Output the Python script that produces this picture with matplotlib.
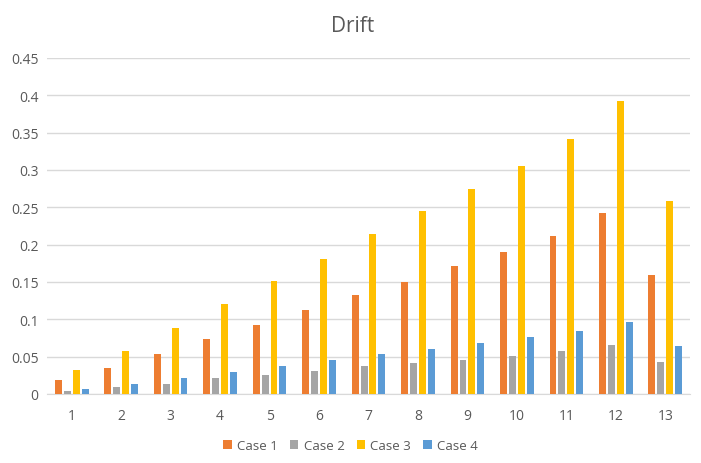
import matplotlib
matplotlib.use("Agg")
import matplotlib.pyplot as plt
import numpy as np

plt.rcParams['font.family'] = ['Open Sans', 'DejaVu Sans']

categories = [str(i) for i in range(1, 14)]
case1 = [0.019, 0.035, 0.054, 0.074, 0.093, 0.113, 0.132, 0.150, 0.171, 0.190, 0.211, 0.243, 0.160]
case2 = [0.0045, 0.0098, 0.014, 0.021, 0.026, 0.031, 0.037, 0.042, 0.046, 0.0515, 0.058, 0.066, 0.0435]
case3 = [0.032, 0.058, 0.089, 0.120, 0.151, 0.181, 0.214, 0.245, 0.275, 0.306, 0.341, 0.392, 0.258]
case4 = [0.007, 0.014, 0.022, 0.029, 0.037, 0.045, 0.053, 0.060, 0.068, 0.076, 0.084, 0.097, 0.064]
series = [("Case 1", case1, "#ED7D31"), ("Case 2", case2, "#A5A5A5"),
          ("Case 3", case3, "#FFC000"), ("Case 4", case4, "#5B9BD5")]

fig = plt.figure(figsize=(7.01, 4.64), dpi=100)
ax = fig.add_axes([47/701, 69/464, 643/701, 336/464])

x = np.arange(len(categories))
step = 0.18
width = 0.14
for i, (name, vals, col) in enumerate(series):
    ax.bar(x + (i - 1.5) * step, vals, width=width, color=col, label=name, zorder=3)

ax.set_xlim(-0.5, len(categories) - 0.5)
ax.set_ylim(0, 0.45)
yt = np.arange(0, 0.451, 0.05)
ax.set_yticks(yt)
ax.set_yticklabels(["0", "0.05", "0.1", "0.15", "0.2", "0.25", "0.3", "0.35", "0.4", "0.45"])
ax.set_xticks(x)
ax.set_xticklabels(categories)
ax.grid(axis='y', color='#D9D9D9', linewidth=1, zorder=0)
for s in ['top', 'right', 'left']:
    ax.spines[s].set_visible(False)
ax.spines['bottom'].set_color('#D9D9D9')
ax.tick_params(axis='both', length=0, colors='#595959', labelsize=10)
ax.tick_params(axis='x', pad=10)
ax.tick_params(axis='y', pad=6)

fig.text(0.503, 1 - 26/464, "Drift", ha='center', va='center', fontsize=15, color='#595959')

leg = fig.legend(loc='center', bbox_to_anchor=(0.5, 1 - 447/464), ncol=4, frameon=False,
                 fontsize=9.5, handlelength=0.65, handleheight=0.65, handletextpad=0.4,
                 columnspacing=0.9, labelcolor='#595959')

fig.savefig("out.png", dpi=100)
